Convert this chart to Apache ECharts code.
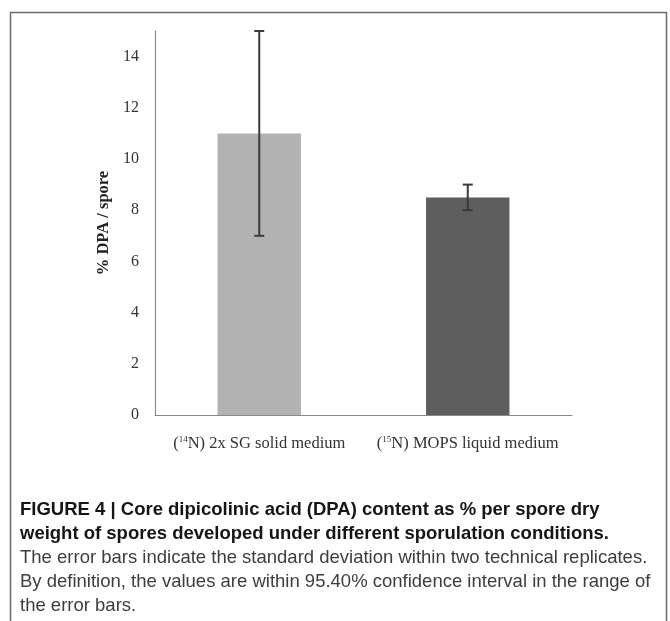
<!DOCTYPE html>
<html>
<head>
<meta charset="utf-8">
<script src="https://cdn.jsdelivr.net/npm/echarts@6/dist/echarts.min.js"></script>
<style>
html,body{margin:0;padding:0;background:#fff;}
#chart{width:670px;height:621px;}
</style>
</head>
<body>
<div id="chart"></div>
<script>
const categories = ['({sup|14}N) 2x SG solid medium', '({sup|15}N) MOPS liquid medium'];
const dpaValues = [11, 8.5];
const errorLow = [7, 8];
const errorHigh = [15, 9];
const barColors = ['#b2b2b2', '#5e5e5e'];
const yTicks = { min: 0, max: 15, interval: 2 };
const yAxisName = '% DPA / spore';
const captionBold = [
  'FIGURE 4 | Core dipicolinic acid (DPA) content as % per spore dry',
  'weight of spores developed under different sporulation conditions.'
];
const captionRegular = [
  'The error bars indicate the standard deviation within two technical replicates.',
  'By definition, the values are within 95.40% confidence interval in the range of',
  'the error bars.'
];

const chart = echarts.init(document.getElementById('chart'));

const capTop = 510, capStep = 24;
const captionGraphics = [];
captionBold.forEach((t, i) => {
  captionGraphics.push({
    type: 'text', x: 20, y: capTop + i * capStep,
    style: { text: t, font: 'bold 18.5px "Liberation Sans", Arial, sans-serif', fill: '#151515', verticalAlign: 'middle' }
  });
});
captionRegular.forEach((t, i) => {
  captionGraphics.push({
    type: 'text', x: 20, y: capTop + (i + 2) * capStep,
    style: { text: t, font: '18.5px "Liberation Sans", Arial, sans-serif', fill: '#3d3d3d', verticalAlign: 'middle' }
  });
});

chart.setOption({
  animation: false,
  backgroundColor: '#fff',
  grid: { left: 155, top: 31, width: 417, height: 384, containLabel: false },
  xAxis: {
    type: 'category',
    data: categories,
    axisLine: { lineStyle: { color: '#8a8a8a', width: 1.2 } },
    axisTick: { show: false },
    axisLabel: {
      interval: 0,
      margin: 20,
      color: '#333',
      fontFamily: '"Liberation Serif", "Times New Roman", serif',
      fontSize: 16.5,
      rich: {
        sup: { fontSize: 9, verticalAlign: 'top', padding: [0, 0, 7, 0], color: '#333', fontFamily: '"Liberation Serif", serif' }
      }
    }
  },
  yAxis: {
    type: 'value',
    min: yTicks.min, max: yTicks.max, interval: yTicks.interval,
    name: yAxisName,
    nameLocation: 'middle',
    nameGap: 34,
    nameTextStyle: { fontFamily: '"Liberation Serif", "Times New Roman", serif', fontWeight: 'bold', fontSize: 16.5, color: '#222' },
    axisLine: { show: true, lineStyle: { color: '#8a8a8a', width: 1.2 } },
    axisTick: { show: false },
    splitLine: { show: false },
    axisLabel: {
      showMaxLabel: false,
      margin: 16,
      color: '#333',
      fontFamily: '"Liberation Serif", "Times New Roman", serif',
      fontSize: 16
    }
  },
  series: [
    {
      type: 'bar',
      barWidth: '40%',
      data: dpaValues.map((v, i) => ({ value: v, itemStyle: { color: barColors[i] } })),
      z: 2
    },
    {
      type: 'custom',
      z: 3,
      data: dpaValues.map((v, i) => [i, errorLow[i], errorHigh[i]]),
      renderItem: function (params, api) {
        const x = api.value(0);
        const lo = api.coord([x, api.value(1)]);
        const hi = api.coord([x, api.value(2)]);
        const hw = 5;
        const st = { stroke: '#3a3a3a', lineWidth: 2 };
        return {
          type: 'group',
          children: [
            { type: 'line', shape: { x1: lo[0], y1: lo[1], x2: hi[0], y2: hi[1] }, style: st },
            { type: 'line', shape: { x1: lo[0] - hw, y1: lo[1], x2: lo[0] + hw, y2: lo[1] }, style: st },
            { type: 'line', shape: { x1: hi[0] - hw, y1: hi[1], x2: hi[0] + hw, y2: hi[1] }, style: st }
          ]
        };
      }
    }
  ],
  graphic: [
    {
      type: 'polyline',
      shape: { points: [[10.5, 640], [10.5, 12.5], [666.5, 12.5], [666.5, 640]] },
      style: { stroke: '#6a6a6a', lineWidth: 1.5, fill: null }
    }
  ].concat(captionGraphics)
});
</script>
</body>
</html>
